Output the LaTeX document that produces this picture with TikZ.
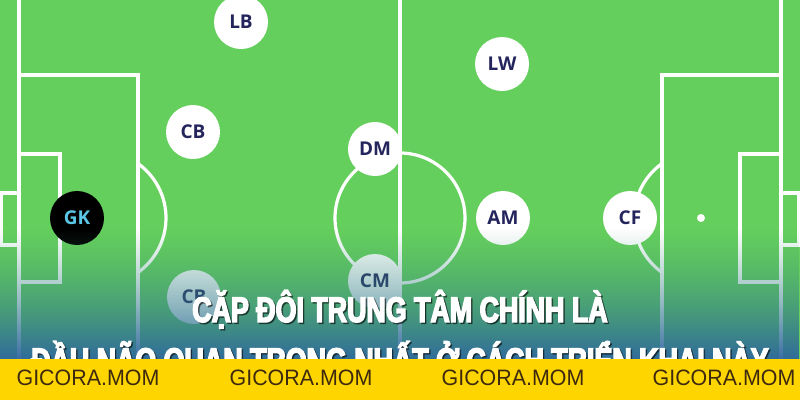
\documentclass[tikz,border=0pt]{standalone}
\usepackage{fontspec}
\usetikzlibrary{fadings}
\newfontfamily\playerfont{Open Sans}
\newfontfamily\titlefont{Liberation Sans Bold}[FakeStretch=0.755,FakeBold=4]
\newfontfamily\markfont{Liberation Sans}[FakeStretch=0.96]
\definecolor{pitch}{HTML}{65CF5D}
\definecolor{navy}{HTML}{24255C}
\definecolor{keeperblue}{HTML}{5CC6E6}
\definecolor{shadetop}{HTML}{3C9872}
\definecolor{shadebottom}{HTML}{2C63A0}
\definecolor{banner}{HTML}{FFD500}
\definecolor{markbrown}{HTML}{3D2A0E}
\tikzfading[name=fadeup, top color=transparent!100, bottom color=transparent!5]

\begin{document}
\begin{tikzpicture}
            [x=1pt, y=-1pt, every node/.style={inner sep=0pt},
             pitchline/.style={draw=white, line width=3.2pt},
             player/.style={circle, minimum size=54pt, fill=white, text=navy, font=\playerfont\bfseries\fontsize{19}{19}\selectfont},
             keeper/.style={player, fill=black, text=keeperblue},
             headline/.style={anchor=base, text=white, font=\titlefont\fontsize{35.5}{35.5}\selectfont},
             headshadow/.style={headline, text=black, opacity=0.45},
             watermark/.style={anchor=base, text=markbrown, font=\markfont\fontsize{22.3}{22.3}\selectfont}]
                \useasboundingbox (0,0) rectangle (800,400);
                \clip (0,0) rectangle (800,400);
                \fill [pitch] (0,0) rectangle (800,400);
                \draw [pitchline] (19,0) -- (19,400);
                \draw [pitchline] (781,0) -- (781,400);
                \draw [pitchline] (400,0) -- (400,400);
                \draw [pitchline] (400,218) circle [radius=65];
                \draw [pitchline] (19,75) -- (138,75) -- (138,361) -- (19,361);
                \draw [pitchline] (19,154) -- (60,154) -- (60,282) -- (19,282);
                \draw [pitchline] (19,193) -- (1,193) -- (1,245) -- (19,245);
                \draw [pitchline] (781,75) -- (662,75) -- (662,361) -- (781,361);
                \draw [pitchline] (781,154) -- (740,154) -- (740,282) -- (781,282);
                \draw [pitchline] (781,193) -- (799,193) -- (799,245) -- (781,245);
                \draw [pitchline] (99,218) ++(-54.4:67) arc [start angle=-54.4, end angle=54.4, radius=67];
                \draw [pitchline] (701,218) ++(125.6:67) arc [start angle=125.6, end angle=234.4, radius=67];
                \fill [white] (99,218) circle [radius=4];
                \fill [white] (701,218) circle [radius=4];
                \node (gk) [keeper] at (77,218) {GK};
                \node (lb) [player] at (241,22) {LB};
                \node (cb) [player] at (193,132) {CB};
                \node (cbtwo) [player] at (194,297) {CB};
                \node (dm) [player] at (375,149) {DM};
                \node (cm) [player] at (375,281) {CM};
                \node (lw) [player] at (502,64) {LW};
                \node (am) [player] at (503,218) {AM};
                \node (cf) [player] at (630,218) {CF};
                \shade [top color=shadetop, bottom color=shadebottom, path fading=fadeup] (0,228) rectangle (800,361);
                \node (shadowone) [headshadow] at (401.5,323.5) {CẶP ĐÔI TRUNG TÂM CHÍNH LÀ};
                \node (titleone) [headline] at (400,322) {CẶP ĐÔI TRUNG TÂM CHÍNH LÀ};
                \node (shadowtwo) [headshadow] at (401.5,374.5) {ĐẦU NÃO QUAN TRỌNG NHẤT Ở CÁCH TRIỂN KHAI NÀY};
                \node (titletwo) [headline] at (400,373) {ĐẦU NÃO QUAN TRỌNG NHẤT Ở CÁCH TRIỂN KHAI NÀY};
                \fill [banner] (0,359) rectangle (800,400);
                \node (markone) [watermark] at (88,385) {GICORA.MOM};
                \node (marktwo) [watermark] at (301,385) {GICORA.MOM};
                \node (markthree) [watermark] at (513,385) {GICORA.MOM};
                \node (markfour) [watermark] at (724,385) {GICORA.MOM};
            \end{tikzpicture}
\end{document}
